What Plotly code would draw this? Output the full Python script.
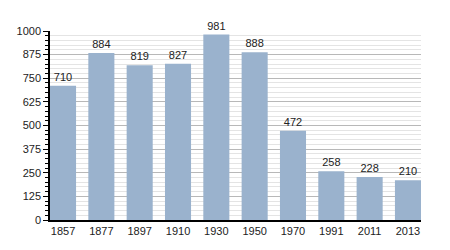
import plotly.graph_objects as go

years = ["1857", "1877", "1897", "1910", "1930", "1950", "1970", "1991", "2011", "2013"]
population = [710, 884, 819, 827, 981, 888, 472, 258, 228, 210]
y_ticks = [0, 125, 250, 375, 500, 625, 750, 875, 1000]

x_pos = list(range(len(years)))

fig = go.Figure(go.Bar(
    x=x_pos, y=population, width=0.68,
    marker=dict(color="#9ab2cd", line=dict(width=0)),
    text=[str(v) for v in population], textposition="outside",
    textfont=dict(family="Liberation Sans, Arial, sans-serif", size=11, color="#222"),
    cliponaxis=False,
))

fig.update_layout(
    width=450, height=250,
    margin=dict(l=50, r=29, t=31, b=30),
    paper_bgcolor="white", plot_bgcolor="white",
    showlegend=False,
    font=dict(family="Liberation Sans, Arial, sans-serif", size=11, color="#222"),
    uniformtext=dict(mode=False),
)
fig.update_xaxes(
    range=[-0.34, 9.34], tickmode="array", tickvals=x_pos, ticktext=years,
    showgrid=False, showline=True, linecolor="black", linewidth=1.5,
    ticks="", zeroline=False, tickfont=dict(size=11),
)
fig.update_yaxes(
    range=[0, 1000], tickmode="array", tickvals=y_ticks,
    showgrid=True, gridcolor="#b8b8b8", gridwidth=1,
    showline=True, linecolor="black", linewidth=1.5,
    ticks="outside", ticklen=5, tickcolor="black",
    minor=dict(dtick=25, tick0=0, showgrid=True, gridcolor="#e4e4e4", gridwidth=1,
               ticks="outside", ticklen=3, tickcolor="black"),
    zeroline=False, tickfont=dict(size=11),
)

fig.write_html("out.html")
